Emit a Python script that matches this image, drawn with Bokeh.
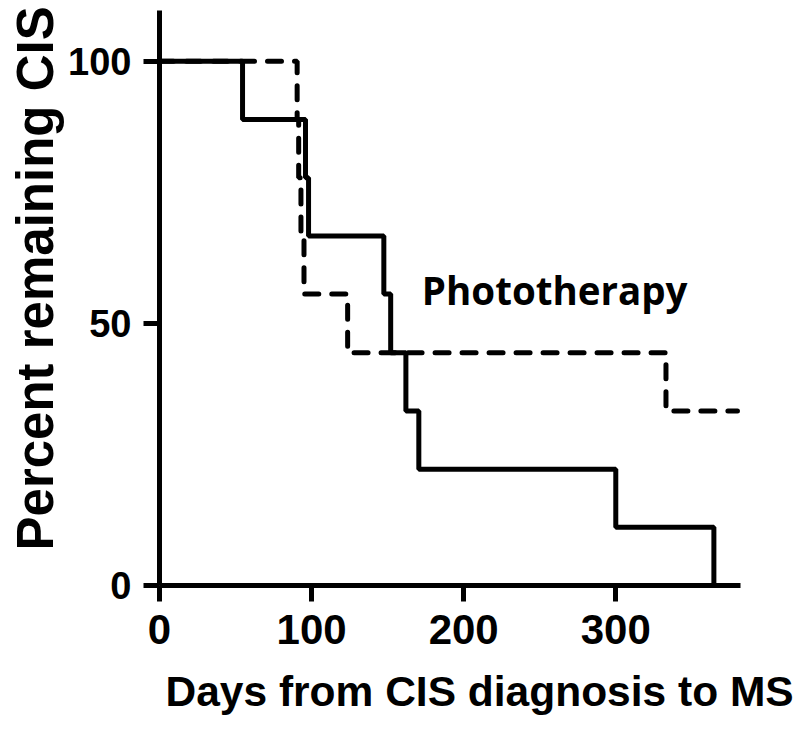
from bokeh.plotting import figure
from bokeh.models import Range1d, FixedTicker, Title
from bokeh.core.properties import value
from bokeh.embed import file_html
from bokeh.resources import INLINE

# Kaplan-Meier steps (days, percent remaining CIS)
control_days = [0, 54.6, 96, 98, 147.5, 152, 162, 170.5, 300, 364.5]
control_pct = [100, 88.9, 77.8, 66.7, 55.6, 44.4, 33.3, 22.2, 11.1, 0]

photo_days = [0, 90.5, 91.5, 93, 95, 123.7, 333, 380]
photo_pct = [100, 88.9, 77.8, 66.7, 55.6, 44.4, 33.3, 33.3]

x_ticks = [0, 100, 200, 300]
y_ticks = [0, 50, 100]

label_text = ["Phototherapy"]
label_x = [172.5]
label_y = [56.3]

x_title = "Days from CIS diagnosis to MS"
y_title = "Percent remaining CIS"

FONT = "Liberation Sans"

p = figure(width=800, height=734, output_backend="svg", toolbar_location=None,
           x_range=Range1d(0, 382), y_range=Range1d(0, 109.7),
           min_border_left=159, min_border_right=60, min_border_top=10,
           min_border_bottom=149)
p.outline_line_color = None
p.grid.visible = False
p.background_fill_color = "white"
p.border_fill_color = "white"

p.step(photo_days, photo_pct, mode="after", line_color="black", line_width=5,
       line_dash="14 13", line_cap="round")
p.step(control_days, control_pct, mode="after", line_color="black", line_width=5)

p.text(x=label_x, y=label_y, text=label_text, text_font=value("Open Sans"),
       text_font_style="bold", text_font_size="38.5px", text_color="black",
       text_baseline="alphabetic", text_align="left")

for ax in (p.xaxis[0], p.yaxis[0]):
    ax.axis_line_width = 5
    ax.axis_line_color = "black"
    ax.major_tick_line_width = 5
    ax.major_tick_line_color = "black"
    ax.major_tick_out = 16
    ax.major_tick_in = 0
    ax.minor_tick_line_color = None
    ax.major_label_text_font = FONT
    ax.major_label_text_font_style = "bold"
    ax.major_label_text_color = "black"

p.xaxis.ticker = FixedTicker(ticks=x_ticks)
p.yaxis.ticker = FixedTicker(ticks=y_ticks)
p.xaxis.major_label_text_font_size = "42px"
p.yaxis.major_label_text_font_size = "38px"
p.xaxis.major_label_standoff = 13
p.yaxis.major_label_standoff = 12

# axis titles as side titles (allows offset from the frame's start)
p.add_layout(Title(text=x_title, text_font=FONT, text_font_style="bold",
                   text_font_size="42.5px", text_color="black",
                   text_line_height=0.9,
                   align="left", offset=6, standoff=38), "below")
p.add_layout(Title(text=y_title, text_font=FONT, text_font_style="bold",
                   text_font_size="51px", text_color="black",
                   text_line_height=0.8, vertical_align="top",
                   align="left", offset=35, standoff=0), "left")

open("out.html", "w").write(file_html(p, INLINE))
